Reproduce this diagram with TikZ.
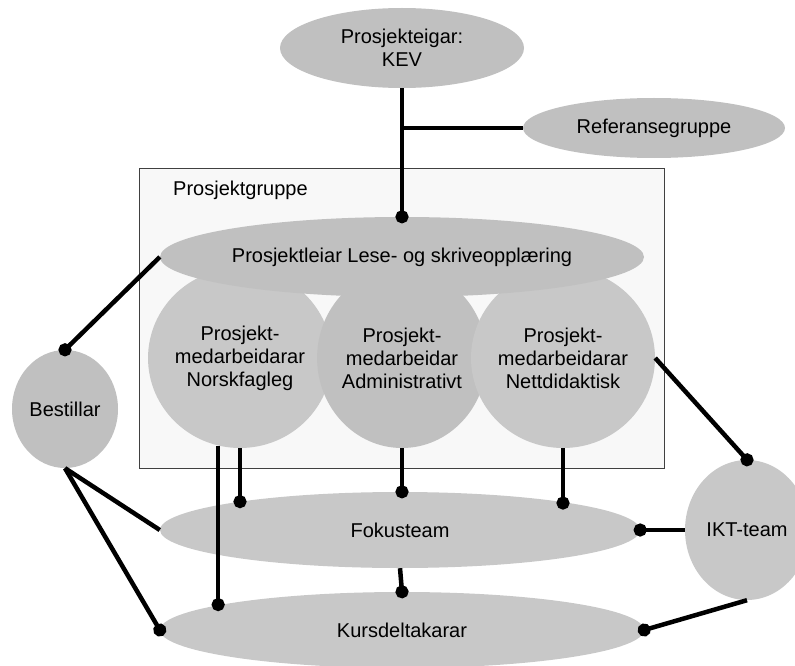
\documentclass[tikz,border=0pt]{standalone}
\usepackage{fontspec}
\setmainfont{Liberation Sans}
\usepackage{xcolor}
\usepackage{tikz}
\usetikzlibrary{shapes.geometric, arrows.meta, calc}
\definecolor{bubblegray}{HTML}{C0C0C0}
\definecolor{hatchgray}{HTML}{C8C8C8}
\definecolor{groupfill}{HTML}{F8F8F8}
\definecolor{groupline}{HTML}{404040}
\tikzset{
    bubble/.style={ellipse, fill=bubblegray, inner sep=0pt, align=center},
    hatched/.style={bubble, fill=hatchgray},
    conn/.style={line width=4.5pt},
    dotconn/.style={conn, -{Circle[length=13pt]}, shorten >=-6.5pt}
}

\begin{document}
\begin{tikzpicture}[x=1pt, y=-1pt, font=\fontsize{20}{23}\selectfont]
    \useasboundingbox (0,0) rectangle (795,666);
    \node[draw=groupline, fill=groupfill, line width=1pt, inner sep=0pt,
          minimum width=525pt, minimum height=300pt, anchor=north west] (group) at (139,168) {};
    \node[anchor=west, inner sep=0pt] (grouplabel) at (173,190) {Prosjektgruppe};
    \node[hatched, minimum width=160pt, minimum height=180pt] (norsk) at (240,358)
        {Prosjekt-\\medarbeidarar\\Norskfagleg};
    \node[bubble, minimum width=160pt, minimum height=180pt] (admin) at (402,358)
        {Prosjekt-\\medarbeidar\\Administrativt};
    \node[hatched, minimum width=160pt, minimum height=180pt] (nett) at (563,358)
        {Prosjekt-\\medarbeidarar\\Nettdidaktisk};
    \node[bubble, minimum width=484pt, minimum height=80pt] (leiar) at (402,257)
        {Prosjektleiar Lese- og skriveopplæring};
    \node[bubble, minimum width=244pt, minimum height=80pt] (kev) at (402,48) {Prosjekteigar:\\KEV};
    \node[bubble, minimum width=262pt, minimum height=60pt] (ref) at (654,128) {Referansegruppe};
    \node[bubble, minimum width=106pt, minimum height=118pt] (best) at (65,409) {Bestillar};
    \node[hatched, minimum width=124pt, minimum height=140pt] (ikt) at (747,530) {IKT-team};
    \node[hatched, minimum width=480pt, minimum height=76pt] (fokus) at (400,530) {Fokusteam};
    \node[hatched, minimum width=484pt, minimum height=76pt] (kurs) at (402,630) {Kursdeltakarar};

    \draw[dotconn] (kev.south) -- (leiar.north);
    \draw[conn] (ref.west) -- (kev.south |- ref.west);
    \draw[dotconn] (leiar.west) -- (best.north);
    \draw[conn] (best.south) -- (fokus.west);
    \draw[dotconn] (best.south) -- (kurs.west);
    \draw[dotconn] (norsk.-104.3) -- (norsk.-104.3 |- kurs.172.3);
    \draw[dotconn] (norsk.south) -- (norsk.south |- fokus.170);
    \draw[dotconn] (admin.south) -- (admin.south |- fokus.north);
    \draw[dotconn] (nett.south) -- (nett.south |- fokus.9.7);
    \draw[dotconn] (fokus.south) -- (kurs.north);
    \draw[dotconn] (nett.east) -- (ikt.north);
    \draw[dotconn] (ikt.west) -- (fokus.east);
    \draw[dotconn] (ikt.south) -- (kurs.east);
\end{tikzpicture}
\end{document}
